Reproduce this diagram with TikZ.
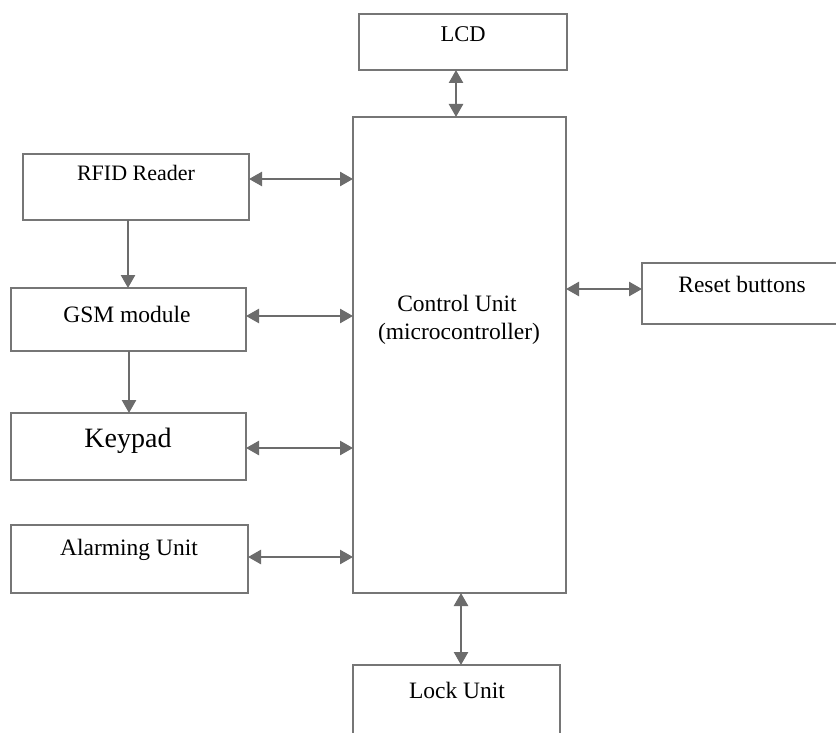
\documentclass[tikz,border=0pt]{standalone}
\usepackage{fontspec}
\setmainfont{Liberation Serif}
\usetikzlibrary{arrows.meta}
\definecolor{boxgray}{RGB}{118,118,118}
\definecolor{arrgray}{RGB}{108,108,108}
\begin{document}
\begin{tikzpicture}[x=1pt,y=-1pt,
  blk/.style={draw=boxgray,line width=1.6pt,rectangle},
  lbl/.style={anchor=base,inner sep=0pt,font=\fontsize{23.5}{26}\selectfont},
  conn/.style={draw=arrgray,line width=2.5pt,{Triangle[length=13pt,width=14pt]}-{Triangle[length=13pt,width=14pt]}},
  oneway/.style={draw=arrgray,line width=2.5pt,-{Triangle[length=13pt,width=14pt]}}]
\fill[white] (0,0) rectangle (836,733);
\useasboundingbox (0,0) rectangle (836,733);
% boxes
\path[blk] (359,14) rectangle (567,70);
\path[blk] (353,117) rectangle (566,593);
\path[blk] (23,154) rectangle (249,220);
\path[blk] (11,288) rectangle (246,351);
\path[blk] (11,413) rectangle (246,480);
\path[blk] (11,525) rectangle (248,593);
\path[blk] (642,263) rectangle (845,324);
\path[blk] (353,665) rectangle (560,745);
% named anchors on box edges
\coordinate (lcdS) at (456,70);
\coordinate (cuN1) at (456,117);
\coordinate (cuS1) at (461,593);
\coordinate (lockN) at (461,665);
\coordinate (rfidE) at (249,179);
\coordinate (cuW1) at (353,179);
\coordinate (gsmE) at (246,316);
\coordinate (cuW2) at (353,316);
\coordinate (keyE) at (246,448);
\coordinate (cuW3) at (353,448);
\coordinate (alaE) at (248,557);
\coordinate (cuW4) at (353,557);
\coordinate (cuE) at (566,289);
\coordinate (rstW) at (642,289);
\coordinate (rfidS) at (128,220);
\coordinate (gsmN) at (128,288);
\coordinate (gsmS) at (129,351);
\coordinate (keyN) at (129,413);
% labels
\node[lbl,font=\fontsize{22.5}{24}\selectfont] (tlcd) at (463,42) {LCD};
\node[lbl,font=\fontsize{22}{24}\selectfont] (trfid) at (136,181) {RFID Reader};
\node[lbl] (tgsm) at (127,322) {GSM module};
\node[lbl,font=\fontsize{28}{30}\selectfont] (tkey) at (128,447) {Keypad};
\node[lbl] (tala) at (129,555) {Alarming Unit};
\node[lbl] (trst) at (742,292) {Reset buttons};
\node[lbl] (tcu1) at (457,311) {Control Unit};
\node[lbl] (tcu2) at (459,339) {(microcontroller)};
\node[lbl] (tlock) at (457,698) {Lock Unit};
% connectors
\draw[conn] (lcdS) -- (cuN1);
\draw[conn] (cuS1) -- (lockN);
\draw[conn] (rfidE) -- (cuW1);
\draw[conn] (gsmE) -- (cuW2);
\draw[conn] (keyE) -- (cuW3);
\draw[conn] (alaE) -- (cuW4);
\draw[conn] (cuE) -- (rstW);
\draw[oneway] (rfidS) -- (gsmN);
\draw[oneway] (gsmS) -- (keyN);
\end{tikzpicture}
\end{document}
